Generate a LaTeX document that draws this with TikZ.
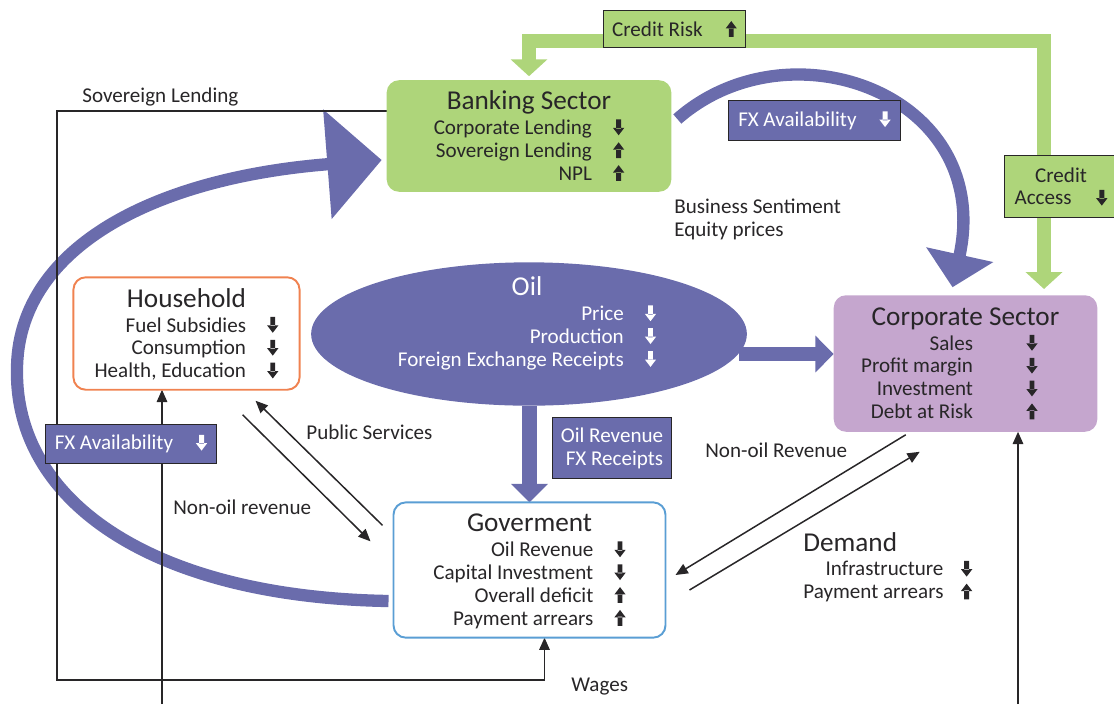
\documentclass[tikz,border=0pt]{standalone}
\usepackage{fontspec}
\setmainfont{Carlito}
\usetikzlibrary{arrows.meta,shapes.geometric,backgrounds}

\definecolor{bankgreen}{RGB}{174,213,122}
\definecolor{oilblue}{RGB}{106,108,172}
\definecolor{corplilac}{RGB}{197,166,206}
\definecolor{hhorange}{RGB}{240,130,80}
\definecolor{govblue}{RGB}{90,158,212}
\definecolor{inkgray}{RGB}{40,38,40}

% small solid up/down arrows used in the lists
\newcommand\dnarr[1][inkgray]{\tikz[baseline=0pt,sharp corners]\fill[#1] (-1.4pt,8.6pt) rectangle (1.4pt,3.4pt) (-3.2pt,3.8pt) -- (3.2pt,3.8pt) -- (0pt,-0.4pt) -- cycle;}
\newcommand\uparr[1][inkgray]{\tikz[baseline=0pt,sharp corners]\fill[#1] (-1.4pt,-0.4pt) rectangle (1.4pt,4.8pt) (-3.2pt,4.4pt) -- (3.2pt,4.4pt) -- (0pt,8.6pt) -- cycle;}
\newcommand\sectortitle[1]{\multicolumn{2}{c}{\fontsize{15.5}{17}\selectfont #1}\\[1pt]}
% trims the last row so the list sits a bit lower in its box
\newcommand\listend{\\[-3.5pt]}

\begin{document}
\begin{tikzpicture}[x=0.02cm,y=-0.02cm,
  sector/.style={rectangle, rounded corners=7pt, inner sep=0pt, outer sep=0pt, text=inkgray, font=\fontsize{12}{13}\selectfont},
  tagbox/.style={rectangle, draw=inkgray, line width=0.6pt, inner sep=0pt, font=\fontsize{12}{13}\selectfont},
  lbl/.style={anchor=west, text=inkgray, inner sep=0pt, font=\fontsize{12}{13}\selectfont},
  conn/.style={draw=inkgray, line width=0.85pt},
  arrowed/.style={-{Triangle[length=7pt,width=6pt]}},
  greenband/.style={draw=bankgreen, line width=8.5pt, -{Triangle[length=9.6pt,width=20.4pt]}},
  fatarrow/.style={draw=oilblue, line width=8.5pt, -{Triangle[length=10.5pt,width=20.4pt]}},
  bigarc/.style={draw=oilblue, line width=7pt}]
\useasboundingbox (0,0) rectangle (1114,704);
\clip (0,0) rectangle (1114,704);

% sectors
\node[sector, fill=bankgreen, minimum width=162pt, minimum height=63.5pt] (bank) at (529,136)
  {\begin{tabular}{@{}r@{\hspace{12pt}}c@{}}\sectortitle{Banking Sector}
   Corporate Lending & \dnarr\\ Sovereign Lending & \uparr\\ NPL & \uparr\listend\end{tabular}};
\node[sector, draw=hhorange, line width=1.1pt, fill=white, minimum width=128.7pt, minimum height=64pt] (household) at (186.5,333.5)
  {\begin{tabular}{@{}r@{\hspace{12pt}}c@{}}\sectortitle{Household}
   Fuel Subsidies & \dnarr\\ Consumption & \dnarr\\ Health, Education & \dnarr\listend\end{tabular}};
\node[sector, fill=corplilac, minimum width=150pt, minimum height=77.7pt] (corp) at (965.5,363.5)
  {\begin{tabular}{@{}r@{\hspace{12pt}}c@{}}\sectortitle{Corporate Sector}
   Sales & \dnarr\\ Profit margin & \dnarr\\ Investment & \dnarr\\ Debt at Risk & \uparr\listend\end{tabular}};
\node[sector, draw=govblue, line width=1.1pt, fill=white, minimum width=154.8pt, minimum height=77pt] (gov) at (529.5,570)
  {\begin{tabular}{@{}r@{\hspace{12pt}}c@{}}\sectortitle{Goverment}
   Oil Revenue & \dnarr\\ Capital Investment & \dnarr\\ Overall deficit & \uparr\\ Payment arrears & \uparr\listend\end{tabular}};
\node[ellipse, fill=oilblue, inner sep=0pt, minimum width=248pt, minimum height=81.6pt] (oil) at (529,334) {};
\node[sector, text=white] (oiltext) at (527,325)
  {\begin{tabular}{@{}r@{\hspace{12pt}}c@{}}\sectortitle{Oil}
   Price & \dnarr[white]\\ Production & \dnarr[white]\\ Foreign Exchange Receipts & \dnarr[white]\end{tabular}};

% tags on the flows
\node[tagbox, fill=bankgreen, text=inkgray, minimum width=81pt, minimum height=21.5pt] (crisk) at (674.5,29) {Credit Risk\hspace{13pt}\uparr};
\node[tagbox, fill=bankgreen, text=inkgray, align=center, minimum width=64.6pt, minimum height=35.7pt] (caccess) at (1061,186.5) {Credit\\Access\hspace{14pt}\dnarr};
\node[tagbox, fill=oilblue, text=white, minimum width=98pt, minimum height=23.2pt] (fxtop) at (814.5,120.5) {FX Availability\hspace{13pt}\dnarr[white]};
\node[tagbox, fill=oilblue, text=white, minimum width=97.5pt, minimum height=22.7pt] (fxleft) at (131,444) {FX Availability\hspace{13pt}\dnarr[white]};
\node[tagbox, fill=oilblue, text=white, align=right, minimum width=68pt, minimum height=35pt] (oilrev) at (612,448) {Oil Revenue\\FX Receipts};

% free ends
\coordinate (corpin) at (1044,289);
\coordinate (loopc) at (57,680);
\coordinate (hhfoot) at (162,704);
\coordinate (cpfoot) at (1018,704);

\begin{scope}[on background layer]
  \draw[greenband] ([shift={(0,12)}]crisk.west) -| ([shift={(0,-4)}]bank.north);
  \draw[greenband] ([shift={(0,12)}]crisk.east) -| (corpin);
  \draw[bigarc, -{Triangle[length=19pt,width=38pt]}] ([shift={(6,-17)}]bank.east) .. controls (790,20) and (995,95) .. ([shift={(-13,-8)}]corp.north);
  \draw[bigarc, -{Triangle[length=31pt,width=61pt]}] ([shift={(-5,31)}]gov.west) .. controls (150,597) and (15,500) .. (17,370)
    .. controls (17,250) and (150,178) .. ([shift={(-5,24)}]bank.west);
  \draw[fatarrow] (739,354) -- (corp.west |- 0,354);
  \draw[fatarrow] (oil.south -| 529.5,0) -- (gov.north -| 529.5,0);
  \draw[conn, arrowed] ([shift={(0,-25)}]bank.west) -| (loopc) -| ([shift={(15,0)}]gov.south);
  \draw[conn, arrowed] (hhfoot) -- (household.south -| hhfoot);
  \draw[conn, arrowed] (cpfoot) -- (corp.south -| cpfoot);
  \draw[conn, arrowed] ([shift={(-11,23)}]gov.north west) -- ([shift={(-44,11)}]household.south east);
  \draw[conn, arrowed] ([shift={(-57,25)}]household.south east) -- ([shift={(-23,39)}]gov.north west);
  \draw[conn, arrowed] ([shift={(72,3)}]corp.south west) -- ([shift={(10,5)}]gov.east);
  \draw[conn, arrowed] ([shift={(24,20)}]gov.east) -- ([shift={(86,20)}]corp.south west);
\end{scope}

% flow labels
\node[lbl] (sovlbl) at (82,97) {Sovereign Lending};
\node[lbl, align=left] (sentlbl) at (674,219.5) {Business Sentiment\\Equity prices};
\node[lbl] (publbl) at (306,432) {Public Services};
\node[lbl] (nonoilhh) at (173,507) {Non-oil revenue};
\node[lbl] (nonoilcp) at (705,450) {Non-oil Revenue};
\node[lbl] (wagelbl) at (571,687) {Wages};
\node[lbl] (demand) at (803,569)
  {\begin{tabular}{@{}r@{\hspace{10pt}}c@{}}\multicolumn{2}{@{}l}{\fontsize{15.5}{17}\selectfont Demand}\\[1pt]
   Infrastructure & \dnarr\\ Payment arrears & \uparr\end{tabular}};
\end{tikzpicture}
\end{document}
